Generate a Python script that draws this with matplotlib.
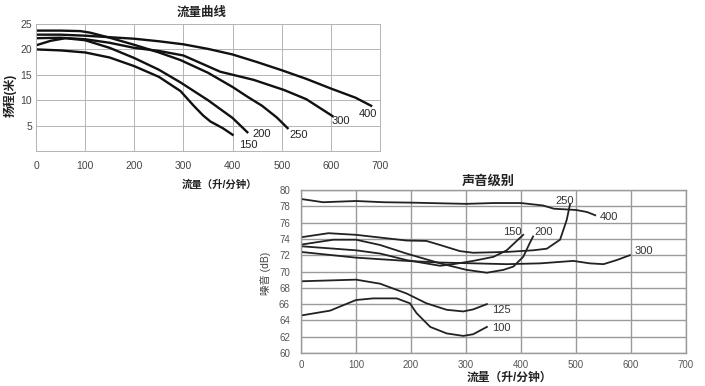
import matplotlib
matplotlib.use('Agg')
from matplotlib import pyplot as plt

plt.rcParams['font.family'] = ['Liberation Sans', 'Noto Sans CJK SC', 'DejaVu Sans']

# Flow curves: head (m) vs flow (L/min), one per pump model
flow_150 = [0, 50, 100, 150, 200, 250, 294, 320, 340, 355, 380, 400]
head_150 = [20.0, 19.8, 19.4, 18.4, 16.7, 14.6, 11.8, 9.0, 7.0, 5.8, 4.5, 3.2]

flow_200 = [0, 30, 60, 100, 150, 200, 250, 294, 350, 400, 430]
head_200 = [20.8, 21.7, 22.2, 21.8, 20.3, 18.3, 16.0, 13.5, 10.0, 6.5, 3.7]

flow_250 = [0, 50, 90, 110, 150, 200, 250, 294, 350, 400, 430, 460, 490, 512]
head_250 = [23.7, 23.7, 23.6, 23.3, 22.3, 20.9, 19.4, 17.9, 15.4, 12.6, 10.7, 8.9, 6.6, 4.5]

flow_300 = [0, 50, 100, 150, 200, 250, 300, 375, 443, 505, 550, 603]
head_300 = [22.2, 22.3, 22.0, 21.3, 20.3, 19.7, 18.8, 15.6, 14.0, 12.0, 10.2, 6.9]

flow_400 = [0, 50, 100, 150, 200, 250, 300, 350, 400, 450, 500, 550, 600, 650, 682]
head_400 = [22.9, 22.9, 22.7, 22.4, 22.1, 21.6, 21.0, 20.1, 19.0, 17.5, 15.9, 14.2, 12.3, 10.5, 8.9]

flow_curves = [
    (flow_150, head_150, '150', 414, 1.1),
    (flow_200, head_200, '200', 440, 3.3),
    (flow_250, head_250, '250', 515, 3.1),
    (flow_300, head_300, '300', 602, 6.0),
    (flow_400, head_400, '400', 656, 7.3),
]

# Noise level curves: dB vs flow (L/min)
nflow_100 = [0, 53, 71, 100, 131, 174, 198, 210, 235, 265, 295, 313, 338]
noise_100 = [64.6, 65.2, 65.7, 66.5, 66.7, 66.7, 66.1, 64.9, 63.2, 62.4, 62.1, 62.3, 63.2]

nflow_125 = [0, 100, 144, 192, 228, 265, 295, 313, 338]
noise_125 = [68.8, 69.0, 68.5, 67.3, 66.1, 65.3, 65.1, 65.35, 66.0]

nflow_150 = [0, 100, 144, 192, 253, 277, 313, 350, 374, 404]
noise_150 = [73.1, 72.6, 72.2, 71.4, 70.7, 70.9, 71.3, 71.8, 72.6, 74.5]

nflow_200 = [0, 59, 100, 144, 192, 253, 301, 338, 368, 386, 404, 416, 422]
noise_200 = [73.3, 73.9, 73.9, 73.25, 72.2, 71.0, 70.2, 69.85, 70.2, 70.6, 71.8, 73.5, 74.3]

nflow_250 = [0, 50, 100, 192, 228, 253, 289, 313, 374, 422, 447, 471, 483, 489]
noise_250 = [74.2, 74.7, 74.5, 73.8, 73.75, 73.25, 72.5, 72.3, 72.4, 72.6, 72.8, 73.9, 76.3, 78.2]

nflow_300 = [0, 100, 192, 253, 374, 435, 495, 525, 550, 574, 598]
noise_300 = [72.4, 71.7, 71.3, 71.1, 70.9, 71.0, 71.3, 71.0, 70.9, 71.4, 72.0]

nflow_400 = [0, 40, 100, 150, 200, 300, 350, 400, 440, 460, 500, 520, 535]
noise_400 = [78.9, 78.5, 78.65, 78.5, 78.45, 78.3, 78.4, 78.4, 78.1, 77.7, 77.55, 77.3, 76.9]

noise_curves = [
    (nflow_100, noise_100, '100', 347, 63.1),
    (nflow_125, noise_125, '125', 347, 65.3),
    (nflow_150, noise_150, '150', 368, 74.9),
    (nflow_200, noise_200, '200', 424, 74.9),
    (nflow_250, noise_250, '250', 462, 78.7),
    (nflow_300, noise_300, '300', 606, 72.55),
    (nflow_400, noise_400, '400', 543, 76.7),
]

fig = plt.figure(figsize=(7.05, 3.86), dpi=100)

# Top chart

ax1 = fig.add_axes([36/705, 1-151/386, 344/705, 127/386])
for x, y, name, lx, ly in flow_curves:
    ax1.plot(x, y, color='#111111', lw=1.7)
    ax1.text(lx, ly, name, fontsize=8, color='#222222', ha='left', va='center')
ax1.set_xlim(0, 700)
ax1.set_ylim(0, 25)
ax1.set_xticks(range(0, 701, 100))
ax1.set_yticks([5, 10, 15, 20, 25])
ax1.grid(True, color='#b4b4b4', lw=0.7)
ax1.tick_params(length=0, labelsize=7.5, colors='#444444', pad=3)
ax1.tick_params(axis='x', pad=7)
for s in ax1.spines.values():
    s.set_color('#b4b4b4')
    s.set_linewidth(0.7)
ax1.set_axisbelow(True)

fig.text(202/705, 1-13/386, '流量曲线', fontsize=9, fontweight='bold', ha='center', va='center', color='#222222')
fig.text(219/705, 1-185/386, '流量（升/分钟）', fontsize=7.5, fontweight='bold', ha='center', va='center', color='#222222')
fig.text(10/705, 1-95/386, '扬程(米)', fontsize=8.5, fontweight='bold', ha='center', va='center', rotation=90, color='#222222')

# Bottom chart

ax2 = fig.add_axes([301/705, 1-353/386, 385/705, 163/386])
for x, y, name, lx, ly in noise_curves:
    ax2.plot(x, y, color='#222222', lw=1.3)
    ax2.text(lx, ly, name, fontsize=8, color='#333333', ha='left', va='center')
ax2.set_xlim(0, 700)
ax2.set_ylim(60, 80)
ax2.set_xticks(range(0, 701, 100))
ax2.set_yticks(range(60, 81, 2))
ax2.grid(True, color='#9a9a9a', lw=1.0)
ax2.tick_params(length=0, labelsize=7, colors='#555555', pad=8)
ax2.tick_params(axis='x', pad=5)
for s in ax2.spines.values():
    s.set_color('#9a9a9a')
    s.set_linewidth(1.0)
ax2.set_axisbelow(True)

fig.text(488/705, 1-181/386, '声音级别', fontsize=9.5, fontweight='bold', ha='center', va='center', color='#222222')
fig.text(509/705, 1-378/386, '流量（升/分钟）', fontsize=8.5, fontweight='bold', ha='center', va='center', color='#222222')
fig.text(266/705, 1-273/386, '噪音 (dB)', fontsize=7.5, ha='center', va='center', rotation=90, color='#444444')

fig.savefig('out.png', dpi=100, facecolor='white')
